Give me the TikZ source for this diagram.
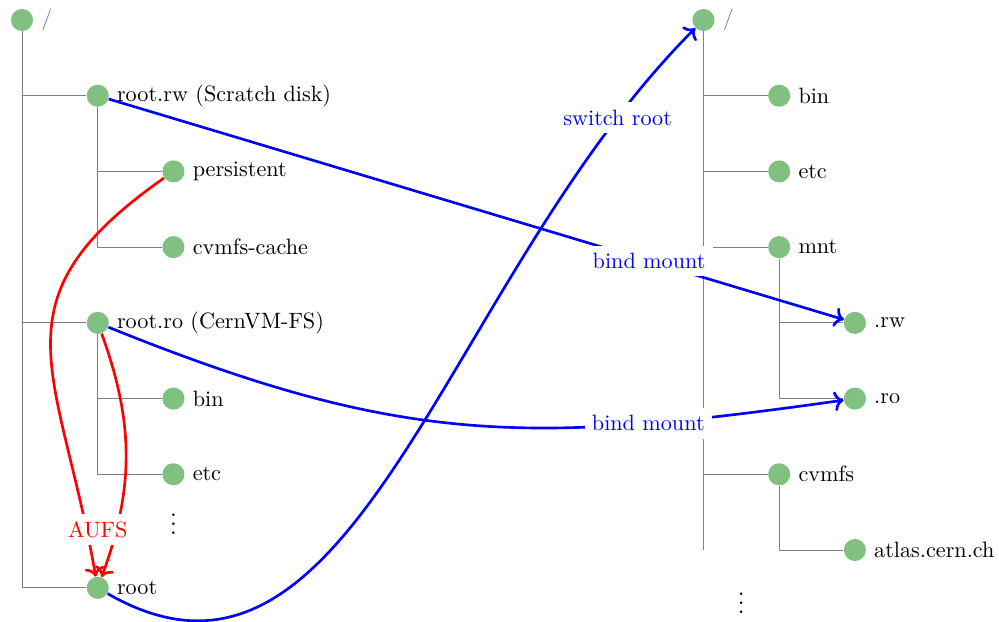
\documentclass[tikz,border=0pt]{standalone}
\usepackage{xcolor}
\usepackage{tikz}
\usetikzlibrary{arrows.meta,positioning,calc}
\definecolor{LeafGreen}{HTML}{80C080}
\definecolor{TreeGray}{HTML}{808080}

\begin{document}
\begin{tikzpicture}[x=1cm, y=1cm]
\tikzset{dir/.style={circle, fill=LeafGreen, minimum size=.35cm, inner sep=0pt}, tree/.style={draw=TreeGray, line width=.4pt}, mount/.style={->, line width=1.2pt, blue}, union/.style={->, line width=1.2pt, red}, tag/.style={fill=white}}
\useasboundingbox (-.349,.317) rectangle (15.484,-9.54);
% left tree: scratch disk and cernvm-fs
\node[dir, label={[text=TreeGray]right:/}] (lroot) at (0,0) {};
\foreach \name/\x/\y/\lbl in {rw/1.2/-1.2/root.rw (Scratch disk), persistent/2.4/-2.4/persistent, cache/2.4/-3.6/cvmfs-cache, ro/1.2/-4.8/root.ro (CernVM-FS), lbin/2.4/-6/bin, letc/2.4/-7.2/etc, newroot/1.2/-9/root} {
  \node[dir, label={right:\lbl}] (\name) at (\x,\y) {};
}
\draw[tree] (lroot) |- (newroot);
\foreach \name in {rw,ro} {
  \draw[tree] (lroot |- \name) -- (\name);
}
\draw[tree] (rw) |- (cache);
\draw[tree] (rw |- persistent) -- (persistent);
\draw[tree] (ro) |- (letc);
\draw[tree] (ro |- lbin) -- (lbin);
\node (lmore) at (2.4,-7.89) {\large$\vdots$};
% right tree: switched root
\node[dir, label={[text=TreeGray]right:/}] (rroot) at (10.8,0) {};
\foreach \name/\x/\y/\lbl in {rbin/12/-1.2/bin, retc/12/-2.4/etc, mnt/12/-3.6/mnt, mrw/13.2/-4.8/.rw, mro/13.2/-6/.ro, cvmfs/12/-7.2/cvmfs, atlas/13.2/-8.4/atlas.cern.ch} {
  \node[dir, label={right:\lbl}] (\name) at (\x,\y) {};
}
\coordinate (rend) at (rroot |- atlas);
\draw[tree] (rroot) -- (rend);
\foreach \name in {rbin,retc,mnt,cvmfs} {
  \draw[tree] (rroot |- \name) -- (\name);
}
\draw[tree] (mnt) |- (mro);
\draw[tree] (mnt |- mrw) -- (mrw);
\draw[tree] (cvmfs) |- (atlas);
\node (rmore) at (11.4,-9.14) {\large$\vdots$};
% mounts
\draw[mount] (rw) -- node[tag, pos=.735] {bind mount} (mrw);
\draw[mount] (ro) to[out=-22, in=-172, looseness=1.1] node[tag, pos=.765] {bind mount} (mro);
\draw[mount] (newroot) to[out=-30, in=-135, out looseness=.9, in looseness=1.12] node[tag, pos=.89] {switch root} (rroot);
\draw[union] (persistent) to[out=-145, in=100, looseness=1.35] (newroot);
\draw[union] (ro) to[bend left=20] (newroot);
\node[tag, text=red] (aufs) at (1.2,-8.08) {AUFS};
\end{tikzpicture}
\end{document}
